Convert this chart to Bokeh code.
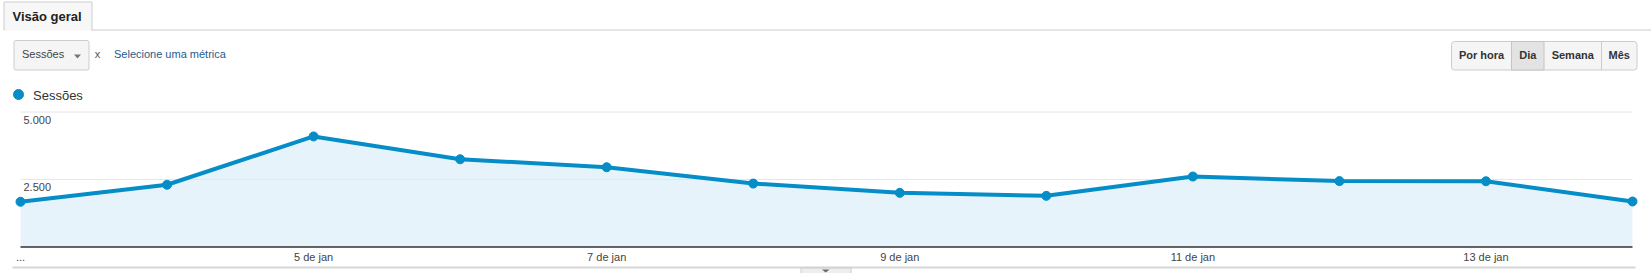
import pandas as pd
from bokeh.plotting import figure
from bokeh.models import Range1d
from bokeh.core.properties import value
from bokeh.embed import file_html
from bokeh.resources import INLINE

# ---------------- data ----------------
dates = ["2016-01-03", "2016-01-04", "2016-01-05", "2016-01-06", "2016-01-07", "2016-01-08",
         "2016-01-09", "2016-01-10", "2016-01-11", "2016-01-12", "2016-01-13", "2016-01-14"]
sessions = [1675, 2305, 4095, 3250, 2955, 2350, 2005, 1895, 2610, 2440, 2435, 1685]
series_name = "Sessões"
y_ticks = [2500, 5000]
y_tick_labels = ["2.500", "5.000"]
x_tick_dates = ["2016-01-03", "2016-01-05", "2016-01-07", "2016-01-09", "2016-01-11", "2016-01-13"]
x_tick_labels = ["...", "5 de jan", "7 de jan", "9 de jan", "11 de jan", "13 de jan"]
y_max = 5000
buttons = ["Por hora", "Dia", "Semana", "Mês"]
active_button = "Dia"

# ---------------- layout ----------------
W, H = 1651, 273
PLOT_L, PLOT_R = 20, 1632
PLOT_TOP, PLOT_BOT = 111.5, 246.5
FONT = value("Liberation Sans")
BLUE = "#058dc7"
FILL = "#e6f3fa"
DY = -5  # baseline correction for svg text

t = pd.to_datetime(dates)
tt = pd.to_datetime(x_tick_dates)
t0 = t[0].value / 1e6
t1 = t[-1].value / 1e6
xs = (t1 - t0) / (PLOT_R - PLOT_L)
vs = y_max / (PLOT_BOT - PLOT_TOP)

p = figure(width=W, height=H, output_backend="svg", toolbar_location=None,
           x_range=Range1d(0, W), y_range=Range1d(H, 0),
           x_axis_location=None, y_axis_location=None, min_border=0)
p.outline_line_color = None
p.grid.visible = False
p.background_fill_color = "white"
p.border_fill_color = "white"
p.extra_x_ranges = {"t": Range1d(t0 - PLOT_L * xs, t1 + (W - PLOT_R) * xs)}
p.extra_y_ranges = {"v": Range1d(0 - (H - PLOT_BOT) * vs, y_max + PLOT_TOP * vs)}

# ---------------- header decorations (pixel space) ----------------
# tab
p.quad(left=3.5, right=91.5, top=1.5, bottom=30, fill_color="#f7f7f7", line_color=None)
p.line(x=[3.5, 3.5, 91.5, 91.5], y=[30, 1.5, 1.5, 30], line_color="#cccccc", line_width=1)
p.segment(x0=91.5, y0=29.5, x1=W, y1=29.5, line_color="#cccccc", line_width=1)
p.text(x=[12], y=[20.5 + DY], text=["Visão geral"], text_font=FONT, text_font_size="13px",
       text_font_style="bold", text_color="#222222", text_baseline="alphabetic")

# metric dropdown
p.quad(left=13.5, right=88.5, top=40, bottom=69.5, fill_color="#f5f5f5", line_color="#cccccc",
       border_radius=2)
p.text(x=[21.5], y=[58.5 + DY], text=[series_name], text_font=FONT, text_font_size="11px",
       text_color="#444444", text_baseline="alphabetic")
p.patch(x=[73.5, 80.5, 77], y=[54, 54, 58], fill_color="#777777", line_color=None)
p.text(x=[97], y=[58.5 + DY], text=["x"], text_font=FONT, text_font_size="11px",
       text_color="#555555", text_baseline="alphabetic", text_align="center")
p.text(x=[113.5], y=[58.5 + DY], text=["Selecione uma métrica"], text_font=FONT,
       text_font_size="11px", text_color="#245b8f", text_baseline="alphabetic")

# granularity buttons
btn_edges = [1451, 1511, 1543.5, 1601, 1636.5]
p.quad(left=btn_edges[0], right=btn_edges[-1], top=41, bottom=69.5, fill_color="#f5f5f5",
       line_color="#cccccc", border_radius=3)
ai = buttons.index(active_button)
p.quad(left=btn_edges[ai], right=btn_edges[ai + 1], top=41, bottom=69.5, fill_color="#e3e3e3",
       line_color="#c4c4c4")
p.segment(x0=[btn_edges[3]], y0=[41], x1=[btn_edges[3]], y1=[69.5], line_color="#cccccc")
p.text(x=[(btn_edges[i] + btn_edges[i + 1]) / 2 for i in range(4)], y=[59 + DY] * 4, text=buttons,
       text_font=FONT, text_font_size="11px", text_font_style="bold", text_color="#333333",
       text_align="center", text_baseline="alphabetic")

# legend
p.scatter(x=[18], y=[94], size=10, fill_color=BLUE, line_color=BLUE)
p.text(x=[32.5], y=[99.5 + DY], text=[series_name], text_font=FONT, text_font_size="13px",
       text_color="#333333", text_baseline="alphabetic")

# bottom rule + handle
p.segment(x0=12, y0=267, x1=1635, y1=267, line_color="#d6d6d6", line_width=2)
p.quad(left=800.5, right=850.5, top=267.5, bottom=274, fill_color="#eeeeee", line_color="#cccccc")
p.patch(x=[821.5, 829, 825.2], y=[269, 269, 272], fill_color="#666666", line_color=None)

# ---------------- chart (data space) ----------------
p.varea(x=t, y1=0, y2=sessions, fill_color=FILL, x_range_name="t", y_range_name="v")
p.segment(x0=[t[0]] * len(y_ticks), x1=[t[-1]] * len(y_ticks), y0=y_ticks, y1=y_ticks,
          line_color="#e6e6e6", line_width=1, x_range_name="t", y_range_name="v")
p.segment(x0=[t[0]], x1=[t[-1]], y0=[0], y1=[0], line_color="#333333", line_width=1.5,
          x_range_name="t", y_range_name="v")
p.line(x=t, y=sessions, line_color=BLUE, line_width=4, line_join="round",
       x_range_name="t", y_range_name="v")
p.scatter(x=t, y=sessions, size=9, fill_color=BLUE, line_color=BLUE, line_width=1,
          x_range_name="t", y_range_name="v")

# y tick labels (inside plot, under gridlines)
p.text(x=[t[0]] * len(y_ticks), y=y_ticks, text=y_tick_labels, x_offset=3, y_offset=12.5 + DY,
       text_font=FONT, text_font_size="11px", text_color="#444444", text_baseline="alphabetic",
       x_range_name="t", y_range_name="v")
# x tick labels
p.text(x=tt, y=[0] * len(tt), text=x_tick_labels, y_offset=14.5 + DY, text_align="center",
       text_font=FONT, text_font_size="11px", text_color="#444444", text_baseline="alphabetic",
       x_range_name="t", y_range_name="v")

open("out.html", "w").write(file_html(p, INLINE))
